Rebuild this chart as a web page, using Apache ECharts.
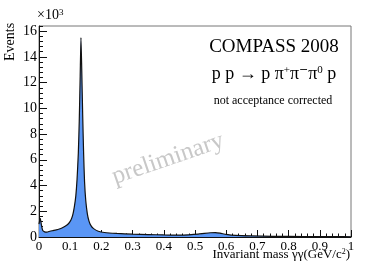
<!DOCTYPE html>
<html>
<head>
<meta charset="utf-8">
<script src="https://cdn.jsdelivr.net/npm/echarts@6/dist/echarts.min.js"></script>
<style>html,body{margin:0;padding:0;background:#fff}#c{width:390px;height:265px}</style>
</head>
<body>
<div id="c"></div>
<script>
// Invariant mass (GeV/c^2)
var massValues = [0.000,0.004,0.008,0.012,0.018,0.025,0.035,0.045,0.055,0.065,0.075,0.085,0.095,0.102,0.108,0.113,0.118,0.122,0.126,0.129,0.132,0.1345,0.137,0.140,0.143,0.146,0.150,0.155,0.160,0.166,0.175,0.19,0.21,0.25,0.30,0.35,0.40,0.45,0.48,0.51,0.53,0.55,0.565,0.58,0.60,0.63,0.68,0.75,0.85,0.95,1.0];
// Events (x10^3)
var eventValues = [1.0,1.45,0.9,0.5,0.4,0.38,0.45,0.5,0.55,0.62,0.72,0.85,1.05,1.3,1.7,2.3,3.2,4.5,6.5,9.0,12.5,15.5,13.0,9.5,6.5,4.3,2.8,1.8,1.25,0.9,0.65,0.45,0.35,0.28,0.22,0.19,0.16,0.15,0.17,0.22,0.28,0.33,0.34,0.3,0.2,0.12,0.08,0.05,0.04,0.03,0.02];
var xTickLabels = {0:'0',1:'0.1',2:'0.2',3:'0.3',4:'0.4',5:'0.5',6:'0.6',7:'0.7',8:'0.8',9:'0.9',10:'1'};
var yTickLabels = ['0','2','4','6','8','10','12','14','16'];

var serif = 'Liberation Serif';
var data = massValues.map(function(x,i){return [x, eventValues[i]];});
var chart = echarts.init(document.getElementById('c'));
chart.setOption({
  animation: false,
  grid: {left: 39, right: 39, top: 26, bottom: 28, show: true, borderColor: '#777', borderWidth: 1},
  xAxis: {
    type: 'value', min: 0, max: 1, interval: 0.1,
    axisLine: {lineStyle: {color: '#111', width: 1}},
    axisTick: {inside: true, length: 7, lineStyle: {color: '#111'}},
    minorTick: {show: true, splitNumber: 5, length: 3.5, lineStyle: {color: '#111'}},
    splitLine: {show: false},
    axisLabel: {fontFamily: serif, fontSize: 13, color: '#000', margin: 3,
      formatter: function(v){ return xTickLabels[Math.round(v*10)]; }}
  },
  yAxis: [{
    type: 'value', min: 0, max: 16.4, interval: 2,
    axisLine: {show: true, lineStyle: {color: '#111', width: 1}},
    axisTick: {inside: true, length: 8, lineStyle: {color: '#111'}},
    splitLine: {show: false},
    axisLabel: {fontFamily: serif, fontSize: 14, color: '#000', margin: 2, showMaxLabel: false,
      formatter: function(v){ return yTickLabels[Math.round(v/2)] || ''; }}
  },{
    type: 'value', min: 0, max: 16.4, interval: 0.4, position: 'left',
    axisLine: {show: false},
    axisTick: {show: true, inside: true, length: 4, lineStyle: {color: '#111'}},
    splitLine: {show: false},
    axisLabel: {show: false}
  }],
  series: [{
    type: 'line', data: data, yAxisIndex: 0, symbol: 'none', smooth: 0.2,
    lineStyle: {color: '#111', width: 1.2},
    areaStyle: {color: '#5a96f5', opacity: 1}
  }],
  graphic: [
    {type: 'text', left: 37, top: 8, style: {text: '×10{s|3}', fontFamily: serif, fontSize: 14, fill: '#000',
      rich: {s: {fontSize: 9, verticalAlign: 'top', fontFamily: serif, fill: '#000'}}}},
    {type: 'text', x: 3, y: 61, rotation: Math.PI/2, style: {text: 'Events', fontFamily: serif, fontSize: 14, fill: '#000', textAlign: 'left', textVerticalAlign: 'top'}},
    {type: 'text', right: 40, top: 248, style: {text: 'Invariant mass γγ(GeV/c{s|2})', fontFamily: serif, fontSize: 13, fill: '#000',
      rich: {s: {fontSize: 8, verticalAlign: 'top', fontFamily: serif, fill: '#000'}}}},
    {type: 'text', x: 274, y: 47, style: {text: 'COMPASS 2008', fontFamily: serif, fontSize: 19, fill: '#000', textAlign: 'center', textVerticalAlign: 'middle'}},
    {type: 'text', x: 274, y: 74, style: {text: 'p p → p π{s|+}π{m|\u2212}π{s|0} p', fontFamily: serif, fontSize: 18, fill: '#000', textAlign: 'center', textVerticalAlign: 'middle',
      rich: {s: {fontSize: 11, verticalAlign: 'top', fontFamily: serif, fill: '#000'},
             m: {fontSize: 11, verticalAlign: 'top', fontFamily: 'DejaVu Serif', fill: '#000'}}}},
    {type: 'text', x: 273, y: 101, style: {text: 'not acceptance corrected', fontFamily: serif, fontSize: 12, fill: '#000', textAlign: 'center', textVerticalAlign: 'middle'}},
    {type: 'text', x: 168, y: 159, rotation: 0.33, style: {text: 'preliminary', fontFamily: serif, fontSize: 25, fill: '#c8c8c8', textAlign: 'center', textVerticalAlign: 'middle'}}
  ]
});
</script>
</body>
</html>
